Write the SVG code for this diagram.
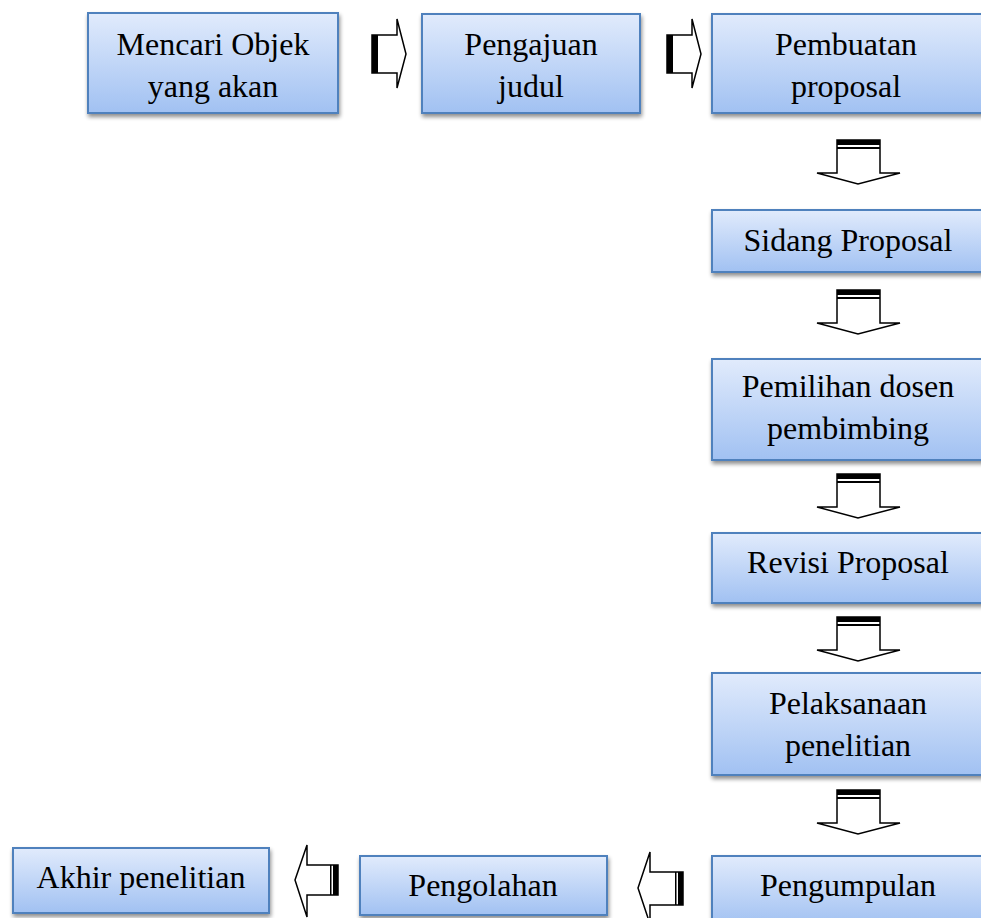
<svg xmlns="http://www.w3.org/2000/svg" width="981" height="918" viewBox="0 0 981 918">
<defs>
<linearGradient id="g" x1="0" y1="0" x2="0" y2="1">
<stop offset="0" stop-color="#e1ebfc"/>
<stop offset="1" stop-color="#a1c1f2"/>
</linearGradient>
<filter id="sh" x="-10%" y="-10%" width="120%" height="130%">
<feGaussianBlur in="SourceAlpha" stdDeviation="2"/>
<feOffset dx="1" dy="3"/>
<feComponentTransfer><feFuncA type="linear" slope="0.45"/></feComponentTransfer>
<feMerge><feMergeNode/><feMergeNode in="SourceGraphic"/></feMerge>
</filter>
</defs>
<style>
.box{fill:url(#g);stroke:#4f81bd;stroke-width:2;filter:url(#sh)}
.t{font-family:'Liberation Serif',serif;font-size:32px;fill:#000;text-anchor:middle}
.ar{fill:#fff;stroke:#000;stroke-width:1.5;stroke-linejoin:miter}
.bar{fill:#000}
</style>
<rect width="981" height="918" fill="#fff"/>
<g id="n1"><rect class="box" x="88" y="13" width="250" height="100"/><text class="t" x="213" y="55">Mencari Objek</text><text class="t" x="213" y="97">yang akan</text></g>
<g id="n2"><rect class="box" x="422" y="14" width="218" height="99"/><text class="t" x="531" y="55">Pengajuan</text><text class="t" x="531" y="97">judul</text></g>
<g id="n3"><rect class="box" x="712" y="14" width="280" height="99"/><text class="t" x="846" y="55">Pembuatan</text><text class="t" x="846" y="97">proposal</text></g>
<g id="n4"><rect class="box" x="712" y="210" width="280" height="62"/><text class="t" x="848" y="251">Sidang Proposal</text></g>
<g id="n5"><rect class="box" x="712" y="359" width="280" height="101"/><text class="t" x="848" y="397">Pemilihan dosen</text><text class="t" x="848" y="439">pembimbing</text></g>
<g id="n6"><rect class="box" x="712" y="533" width="280" height="70"/><text class="t" x="848" y="573">Revisi Proposal</text></g>
<g id="n7"><rect class="box" x="712" y="673" width="280" height="102"/><text class="t" x="848" y="714">Pelaksanaan</text><text class="t" x="848" y="756">penelitian</text></g>
<g id="n8"><rect class="box" x="712" y="856" width="280" height="70"/><text class="t" x="848" y="896">Pengumpulan</text></g>
<g id="n9"><rect class="box" x="360" y="856" width="247" height="59"/><text class="t" x="483" y="896">Pengolahan</text></g>
<g id="n10"><rect class="box" x="13" y="848" width="256" height="65"/><text class="t" x="141" y="888">Akhir penelitian</text></g>
<g id="connectors">
<path class="ar" d="M372,35 H397 V19 L406,54 L397,88 V73 H372 Z"/>
<rect class="bar" x="372" y="35" width="6" height="38"/>
<path class="ar" d="M667,35 H692 V19 L701,54 L692,88 V73 H667 Z"/>
<rect class="bar" x="667" y="35" width="6" height="38"/>
<g>
<path class="ar" d="M837,140 H880 V173 H900 L858,184 L817,173 H837 Z"/>
<rect class="bar" x="837" y="140" width="43" height="5"/><rect class="bar" x="837" y="147" width="43" height="2"/>
</g>
<g transform="translate(0,150)">
<path class="ar" d="M837,140 H880 V173 H900 L858,184 L817,173 H837 Z"/>
<rect class="bar" x="837" y="140" width="43" height="5"/><rect class="bar" x="837" y="147" width="43" height="2"/>
</g>
<g transform="translate(0,334)">
<path class="ar" d="M837,140 H880 V173 H900 L858,184 L817,173 H837 Z"/>
<rect class="bar" x="837" y="140" width="43" height="5"/><rect class="bar" x="837" y="147" width="43" height="2"/>
</g>
<g transform="translate(0,477)">
<path class="ar" d="M837,140 H880 V173 H900 L858,184 L817,173 H837 Z"/>
<rect class="bar" x="837" y="140" width="43" height="5"/><rect class="bar" x="837" y="147" width="43" height="2"/>
</g>
<g transform="translate(0,650)">
<path class="ar" d="M837,140 H880 V173 H900 L858,184 L817,173 H837 Z"/>
<rect class="bar" x="837" y="140" width="43" height="5"/><rect class="bar" x="837" y="147" width="43" height="2"/>
</g>
<path class="ar" d="M683,872 H650 V852 L638,888 L650,924 V905 H683 Z"/>
<rect class="bar" x="678" y="872" width="5" height="33"/><rect class="bar" x="675" y="872" width="1.5" height="33"/>
<path class="ar" d="M338,865 H307 V845 L295,880 L307,917 V895 H338 Z"/>
<rect class="bar" x="333" y="865" width="5" height="30"/><rect class="bar" x="330" y="865" width="1.5" height="30"/>
</g>
</svg>
